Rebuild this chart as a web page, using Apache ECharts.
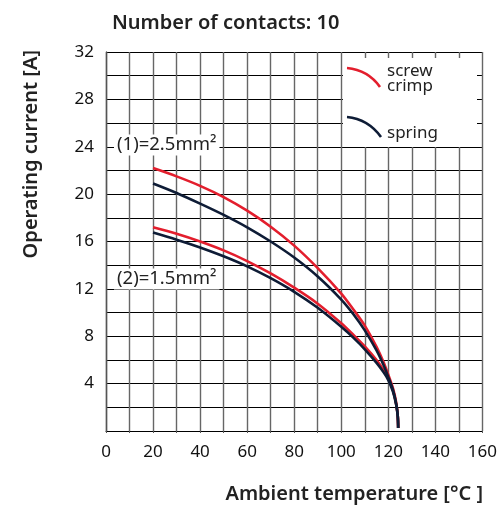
<!DOCTYPE html>
<html><head><meta charset="utf-8">
<script src="https://cdn.jsdelivr.net/npm/echarts@6/dist/echarts.min.js"></script>
<style>html,body{margin:0;padding:0;background:#fff}#c{width:500px;height:508px}</style>
</head><body><div id="c"></div>
<script>
const temps = [20, 30, 40, 50, 60, 70, 80, 90, 100, 105, 110, 115, 118, 120, 122, 123.3, 124, 124.2];
const screw25  = [22.2, 21.5, 20.7, 19.75, 18.6, 17.25, 15.65, 13.75, 11.6, 10.3, 8.9, 7.1, 5.8, 4.75, 3.6, 2.45, 1.3, 0.25];
const spring25 = [20.9, 20.1, 19.2, 18.25, 17.2, 16.0, 14.65, 13.05, 11.1, 9.9, 8.5, 6.8, 5.55, 4.55, 3.45, 2.35, 1.3, 0.25];
const screw15  = [17.2, 16.65, 16.0, 15.25, 14.35, 13.3, 12.1, 10.75, 9.1, 8.15, 7.15, 6.0, 5.15, 4.45, 3.4, 2.3, 1.3, 0.25];
const spring15 = [16.75, 16.15, 15.5, 14.75, 13.9, 12.9, 11.75, 10.4, 8.8, 7.9, 6.9, 5.75, 4.95, 4.3, 3.3, 2.25, 1.3, 0.25];
const xTicks = [0, 20, 40, 60, 80, 100, 120, 140, 160];
const yTicks = [4, 8, 12, 16, 20, 24, 28, 32];

const RED = '#e31e2d', NAVY = '#0e1c36';
const FONT = 'Noto Sans';
function pts(vals){ return temps.map((t,i)=>[t, vals[i]]); }
function line(name, vals, color, z){
  return {name, type:'line', data: pts(vals), showSymbol:false, smooth:0.3,
    lineStyle:{color, width:2.6}, itemStyle:{color}, z, animation:false};
}
const chart = echarts.init(document.getElementById('c'), null, {renderer:'canvas'});
chart.setOption({
  animation:false,
  backgroundColor:'#fff',
  title:{text:'Number of contacts: 10', left:107, top:8,
    textStyle:{fontFamily:FONT, fontSize:20, fontWeight:600, color:'#222'}},
  grid:{left:106, right:16, top:52, bottom:77},
  xAxis:{type:'value', min:0, max:160, interval:10,
    axisLine:{show:true, lineStyle:{color:'#000', width:1}},
    axisTick:{show:true, length:2, inside:false, lineStyle:{color:'#555'}},
    splitLine:{show:true, lineStyle:{color:'#666', width:1.4}},
    axisLabel:{margin:13, fontFamily:FONT, fontSize:17, color:'#111',
      formatter:v=> xTicks.includes(v) ? String(v) : ''}},
  yAxis:{type:'value', min:0, max:32, interval:2,
    axisLine:{show:true, lineStyle:{color:'#555', width:1.4}},
    axisTick:{show:false},
    splitLine:{show:true, lineStyle:{color:'#000', width:1}},
    axisLabel:{margin:12, fontFamily:FONT, fontSize:17, color:'#111',
      formatter:v=> yTicks.includes(v) ? String(v) : ''}},
  series:[
    line('screw 2.5', screw25, RED, 3),
    line('spring 2.5', spring25, NAVY, 4),
    line('screw 1.5', screw15, RED, 3),
    line('spring 1.5', spring15, NAVY, 4)
  ],
  graphic:[
    {type:'rect', z:10, shape:{x:343, y:58, width:134, height:89}, style:{fill:'#fff'}},
    {type:'bezierCurve', z:11, shape:{x1:347, y1:68, cpx1:368, cpy1:70, x2:380, y2:87}, style:{stroke:RED, lineWidth:2.6, fill:null}},
    {type:'bezierCurve', z:11, shape:{x1:347, y1:117, cpx1:368, cpy1:119, x2:381, y2:137}, style:{stroke:NAVY, lineWidth:2.6, fill:null}},
    {type:'text', z:11, x:387, y:71, style:{text:'screw', font:'17px "Noto Sans"', fill:'#222', textVerticalAlign:'middle'}},
    {type:'text', z:11, x:387, y:86, style:{text:'crimp', font:'17px "Noto Sans"', fill:'#222', textVerticalAlign:'middle'}},
    {type:'text', z:11, x:387, y:133, style:{text:'spring', font:'17px "Noto Sans"', fill:'#222', textVerticalAlign:'middle'}},
    {type:'text', z:11, x:114, y:145, style:{text:'(1)=2.5mm²', font:'18.5px "Noto Sans"', fill:'#222', textVerticalAlign:'middle', backgroundColor:'#fff', padding:[1,3,1,3]}},
    {type:'text', z:11, x:114, y:279, style:{text:'(2)=1.5mm²', font:'18.5px "Noto Sans"', fill:'#222', textVerticalAlign:'middle', backgroundColor:'#fff', padding:[1,3,1,3]}},
    {type:'text', z:11, x:31, y:50, rotation:Math.PI/2, style:{text:'Operating current [A]', font:'600 20px "Noto Sans"', fill:'#222', textAlign:'right', textVerticalAlign:'middle'}},
    {type:'text', z:11, x:483, y:494, style:{text:'Ambient temperature [°C ]', font:'600 20px "Noto Sans"', fill:'#222', textAlign:'right', textVerticalAlign:'middle'}}
  ]
});
</script></body></html>
